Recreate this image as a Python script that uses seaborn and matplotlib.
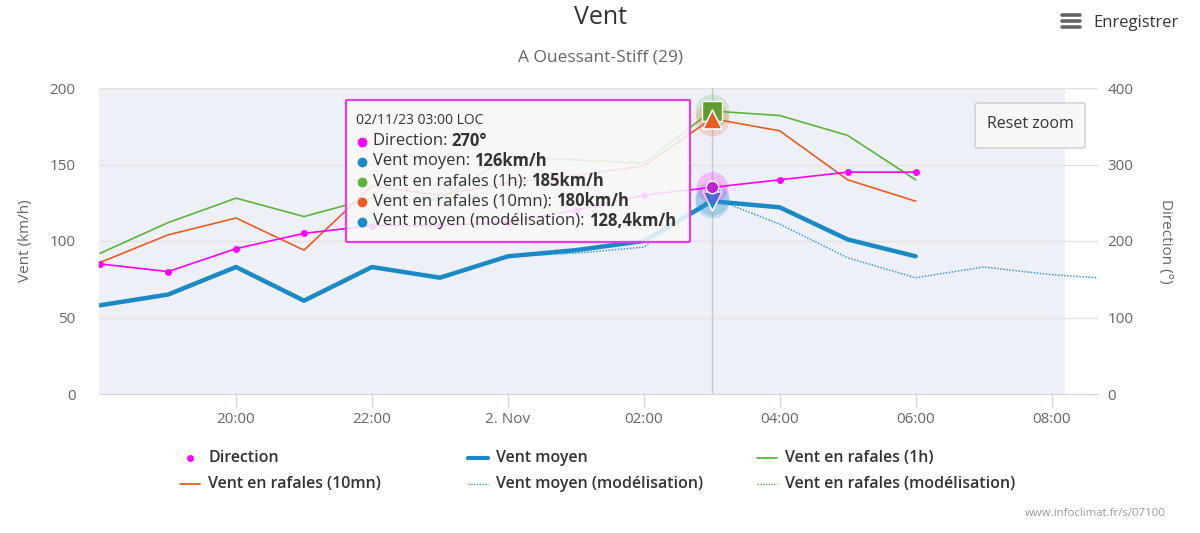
import matplotlib
matplotlib.use("Agg")
import matplotlib.pyplot as plt
import matplotlib.dates as mdates
from matplotlib.lines import Line2D
from matplotlib.patches import FancyBboxPatch
import seaborn as sns
import pandas as pd

# ---------------- data ----------------
obs_times = ["2023-11-01 18:00", "2023-11-01 19:00", "2023-11-01 20:00", "2023-11-01 21:00",
             "2023-11-01 22:00", "2023-11-01 23:00", "2023-11-02 00:00", "2023-11-02 01:00",
             "2023-11-02 02:00", "2023-11-02 03:00", "2023-11-02 04:00", "2023-11-02 05:00",
             "2023-11-02 06:00"]
direction = [170, 160, 190, 210, 220, 220, 225, 240, 260, 270, 280, 290, 290]
vent_moyen = [58, 65, 83, 61, 83, 76, 90, 94, 100, 126, 122, 101, 90]
rafales_1h = [92, 112, 128, 116, 128, 127, 155, 153, 151, 185, 182, 169, 140]
rafales_10mn = [86, 104, 115, 94, 136, 130, 138, 143, 149, 180, 172, 140, 126]

model_times = ["2023-11-02 00:00", "2023-11-02 01:00", "2023-11-02 02:00", "2023-11-02 03:00",
               "2023-11-02 04:00", "2023-11-02 05:00", "2023-11-02 06:00", "2023-11-02 07:00",
               "2023-11-02 08:00", "2023-11-02 09:00"]
vent_moyen_model = [90, 92, 96, 128.4, 111, 89, 76, 83, 78, 75]

hover_time = "2023-11-02 03:00"
tooltip_header = "02/11/23 03:00 LOC"
tooltip_rows = [("Direction: ", "270°"),
                ("Vent moyen: ", "126km/h"),
                ("Vent en rafales (1h): ", "185km/h"),
                ("Vent en rafales (10mn): ", "180km/h"),
                ("Vent moyen (modélisation): ", "128,4km/h")]

legend_labels = ["Direction", "Vent moyen", "Vent en rafales (1h)",
                 "Vent en rafales (10mn)", "Vent moyen (modélisation)",
                 "Vent en rafales (modélisation)"]

left_ticks = [0, 50, 100, 150, 200]
right_ticks = [0, 100, 200, 300, 400]

# ---------------- style ----------------
C_DIR = "#ff00ff"
C_MOY = "#1a8ac6"
C_1H = "#5db43c"
C_10 = "#ea5b22"
C_MOD = "#3d9bd3"
C_MODG = "#5db43c"

sns.set_style("white")
plt.rcParams["font.family"] = ["Open Sans", "DejaVu Sans"]

W, H = 1200, 533
fig = plt.figure(figsize=(12, 5.33), dpi=100)

def fx(px):
    return px / W

def fy(py):
    return 1 - py / H

ax = fig.add_axes([fx(99), fy(394), fx(1098) - fx(99), fy(88) - fy(394)])
ax2 = ax.twinx()

df = pd.DataFrame({"t": pd.to_datetime(obs_times), "dir": direction, "moy": vent_moyen,
                   "r1h": rafales_1h, "r10": rafales_10mn})
dm = pd.DataFrame({"t": pd.to_datetime(model_times), "mod": vent_moyen_model})
ht = pd.to_datetime(hover_time)

x0 = pd.Timestamp("2023-11-01 17:59")
x1 = pd.Timestamp("2023-11-02 08:41")
shade_end = pd.Timestamp("2023-11-02 08:12")

ax.set_facecolor("white")
ax.axvspan(x0, shade_end, color="#eef0f8", zorder=0, lw=0)
for v in left_ticks[1:]:
    ax.axhline(v, color="#e3e3e3", lw=1, zorder=0.5)

sns.lineplot(data=dm, x="t", y="mod", ax=ax, color=C_MOD, lw=1.1, linestyle=(0, (1, 1)), zorder=2)
sns.lineplot(data=df, x="t", y="r1h", ax=ax, color=C_1H, lw=1.2, zorder=3)
sns.lineplot(data=df, x="t", y="r10", ax=ax, color=C_10, lw=1.2, zorder=3)
sns.lineplot(data=df, x="t", y="moy", ax=ax, color=C_MOY, lw=3.2, zorder=4)

sns.lineplot(data=df, x="t", y="dir", ax=ax2, color=C_DIR, lw=1.2, marker="o",
             markersize=5, markeredgewidth=0, zorder=3)

# crosshair
ax.axvline(ht, color="#c8c8c8", lw=1, zorder=1)

# hover markers
hv = df[df["t"] == ht]
hm = dm[dm["t"] == ht]
ax.scatter(hv["t"], hv["r1h"], s=600, color=C_1H, alpha=0.2, lw=0, zorder=5)
ax.scatter(hv["t"], hv["r10"], s=600, color=C_10, alpha=0.2, lw=0, zorder=5)
ax.scatter(hv["t"], hv["r1h"], s=190, marker="s", color="#5e9e2e", edgecolor="white", lw=1, zorder=6)
ax.scatter(hv["t"], hv["r10"], s=190, marker="^", color=C_10, edgecolor="white", lw=1.2, zorder=7)
ax.scatter(hm["t"], hm["mod"], s=600, color=C_MOD, alpha=0.25, lw=0, zorder=5)
ax.scatter(hv["t"], hv["moy"], s=600, color=C_MOY, alpha=0.2, lw=0, zorder=5)
ax.scatter(hm["t"], hm["mod"], s=190, marker="v", color=C_MOD, edgecolor="white", lw=1.2, zorder=7)
ax.scatter(hv["t"], hv["moy"], s=190, marker="v", color=C_MOY, edgecolor="white", lw=1.2, zorder=7)
ax2.scatter(hv["t"], hv["dir"], s=500, color=C_DIR, alpha=0.22, lw=0, zorder=5)
ax2.scatter(hv["t"], hv["dir"], s=80, color="#c020d8", edgecolor="white", lw=1, zorder=6)

# axes
ax.set_xlim(x0, x1)
ax.set_ylim(0, 200)
ax2.set_ylim(0, 400)
ax.set_yticks(left_ticks)
ax2.set_yticks(right_ticks)
ticks = pd.to_datetime(["2023-11-01 20:00", "2023-11-01 22:00", "2023-11-02 00:00",
                        "2023-11-02 02:00", "2023-11-02 04:00", "2023-11-02 06:00",
                        "2023-11-02 08:00"])
ax.set_xticks(ticks)

def fmt(v, pos):
    d = mdates.num2date(v)
    if d.hour == 0:
        return "2. Nov"
    return d.strftime("%H:%M")

ax.xaxis.set_major_formatter(plt.FuncFormatter(fmt))
for a in (ax, ax2):
    for s in a.spines.values():
        s.set_visible(False)
ax.spines["bottom"].set_visible(True)
ax.spines["bottom"].set_color("#ccd6eb")
ax.tick_params(axis="x", colors="#ccd6eb", length=9, width=1, labelcolor="#666666",
               labelsize=11, pad=4, direction="out", bottom=True)
ax.tick_params(axis="y", length=0, labelcolor="#666666", labelsize=11, pad=17)
ax2.tick_params(axis="y", length=0, labelcolor="#666666", labelsize=11, pad=7)
ax.set_xlabel("")
ax.set_ylabel("Vent (km/h)", color="#666666", fontsize=11, labelpad=12)
ax2.set_ylabel("Direction (°)", color="#666666", fontsize=11, rotation=-90, labelpad=28)

# titles
fig.text(fx(600), fy(17), "Vent", ha="center", va="center", fontsize=18, color="#333333")
fig.text(fx(601), fy(57), "A Ouessant-Stiff (29)", ha="center", va="center", fontsize=12.5,
         color="#666666")

# menu icon + Enregistrer
for yy in (15, 21, 27):
    fig.add_artist(Line2D([fx(1062), fx(1080)], [fy(yy), fy(yy)], transform=fig.transFigure,
                          color="#666666", lw=2.6, solid_capstyle="round"))
fig.text(fx(1093), fy(23), "Enregistrer", ha="left", va="center", fontsize=12, color="#333333")

# Reset zoom button
fig.patches.append(FancyBboxPatch((fx(975), fy(148)), fx(110), 45 / H,
                                  boxstyle="round,pad=0,rounding_size=0.003",
                                  transform=fig.transFigure, facecolor="#f7f7f7",
                                  edgecolor="#cccccc", lw=1, zorder=5))
fig.text(fx(1030), fy(124), "Reset zoom", ha="center", va="center", fontsize=11.5,
         color="#333333", zorder=6)

# tooltip
fig.patches.append(FancyBboxPatch((fx(346), fy(242)), fx(344), 142 / H,
                                  boxstyle="round,pad=0,rounding_size=0.002",
                                  transform=fig.transFigure, facecolor=(0.975, 0.975, 0.975, 0.86),
                                  edgecolor="#e23ee2", lw=1.6, zorder=8))
fig.text(fx(356), fy(121), tooltip_header, ha="left", va="center", fontsize=10, color="#333333",
         zorder=9)
bullet_colors = [C_DIR, C_MOY, C_1H, C_10, C_MOY]
row_y = [141, 161, 181, 201, 221]
fig.canvas.draw()
renderer = fig.canvas.get_renderer()
for (lab, val), col, yy in zip(tooltip_rows, bullet_colors, row_y):
    fig.add_artist(Line2D([fx(362)], [fy(yy + 1)], marker="o", markersize=6, color=col, lw=0,
                          transform=fig.transFigure, zorder=9))
    t = fig.text(fx(373), fy(yy), lab, ha="left", va="center", fontsize=12, color="#333333",
                 zorder=9)
    bb = t.get_window_extent(renderer)
    fig.text(bb.x1 / W, fy(yy), val, ha="left", va="center", fontsize=12, fontweight="bold",
             color="#333333", zorder=9)

# legend (manual, Highcharts-like layout)
leg_items = [
    (legend_labels[0], 190, 458, dict(marker="o", color=C_DIR, lw=0, markersize=4), "marker"),
    (legend_labels[1], 468, 458, dict(color=C_MOY, lw=3), "line"),
    (legend_labels[2], 757, 458, dict(color=C_1H, lw=1.3), "line"),
    (legend_labels[3], 180, 484, dict(color=C_10, lw=1.3), "line"),
    (legend_labels[4], 468, 484, dict(color=C_MOD, lw=1, linestyle=(0, (1, 1))), "line"),
    (legend_labels[5], 757, 484, dict(color=C_MODG, lw=1, linestyle=(0, (1, 1))), "line"),
]
for lab, px, py, kw, kind in leg_items:
    if kind == "marker":
        fig.add_artist(Line2D([fx(px)], [fy(py)], transform=fig.transFigure, **kw))
        tx = 208
    else:
        fig.add_artist(Line2D([fx(px), fx(px + 20)], [fy(py), fy(py)], transform=fig.transFigure,
                              **kw))
        tx = px + 28
    fig.text(fx(tx), fy(py), lab, ha="left", va="center", fontsize=11.5, fontweight="semibold",
             color="#333333")

fig.text(fx(1166), fy(514), "www.infoclimat.fr/s/07100", ha="right", va="center", fontsize=8.2,
         color="#999999")

fig.savefig("out.png", dpi=100)
